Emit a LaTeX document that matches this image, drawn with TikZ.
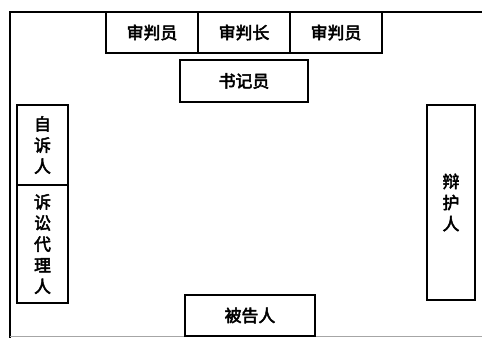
\documentclass[tikz,border=0pt]{standalone}
\usepackage{fontspec}
\newfontfamily\cjk[FakeBold=3]{Noto Sans CJK SC}
\usetikzlibrary{positioning}
\tikzset{
  seat/.style={draw, line width=1.1pt, inner sep=0pt, outer sep=0pt,
    font=\cjk\fontsize{12}{15}\selectfont, align=center},
  bench/.style={seat, minimum width=2.3cm, minimum height=1.025cm}
}

\begin{document}
\begin{tikzpicture}[x=0.025cm, y=-0.025cm]
			\useasboundingbox (0,0) rectangle (482,338);
			% draw room
			\draw[line width=1.1pt] (482,12) -- (10,12) -- (10,338);
			\draw[line width=0.6pt, black!35] (10,336) -- (482,336);
			% judges
			\node[bench] (chief) at (244,32.5) {审判长};
			\node[bench, left=0pt of chief] (judgeL) {审判员};
			\node[bench, right=0pt of chief] (judgeR) {审判员};
			% clerk
			\node[seat, minimum width=3.2cm, minimum height=1.05cm] (clerk) at (244,81) {书记员};
			% left side
			\node[seat, minimum width=1.275cm, minimum height=2cm] (plaintiff) at (42.5,145) {自\\诉\\人};
			\node[seat, minimum width=1.275cm, minimum height=2.95cm, below=0pt of plaintiff] (agent) {诉\\讼\\代\\理\\人};
			% right side
			\node[seat, minimum width=1.2cm, minimum height=4.875cm] (defender) at (451,202.5) {辩\\护\\人};
			% defendant
			\node[seat, minimum width=3.25cm, minimum height=1.025cm] (defendant) at (250,315.5) {被告人};
		\end{tikzpicture}
\end{document}
